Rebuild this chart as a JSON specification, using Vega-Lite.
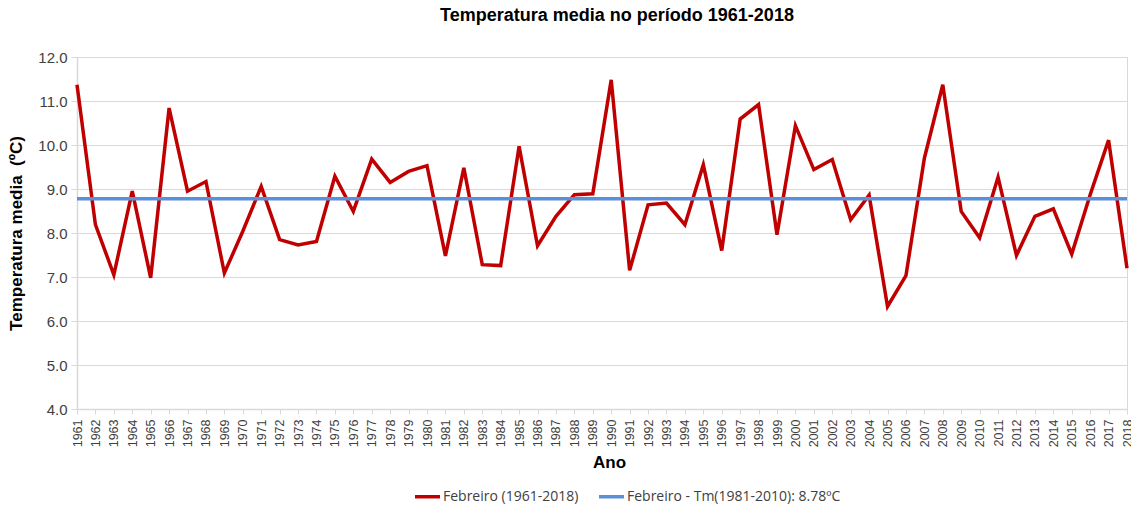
{
  "$schema": "https://vega.github.io/schema/vega-lite/v6.json",
  "width": 1050,
  "height": 352,
  "autosize": {"type": "none"},
  "padding": {"left": 77, "top": 57, "right": 4, "bottom": 97},
  "background": "white",
  "title": {
    "text": "Temperatura media no período 1961-2018",
    "font": "Liberation Sans",
    "fontSize": 18,
    "fontWeight": "bold",
    "color": "#000000",
    "anchor": "middle",
    "dx": 15,
    "offset": 25
  },
  "config": {
    "view": {"stroke": "#d9d9d9", "strokeWidth": 1},
    "axis": {
      "labelFont": "Liberation Sans",
      "titleFont": "Liberation Sans",
      "labelColor": "#404040",
      "titleColor": "#000000",
      "domainColor": "#d9d9d9",
      "tickColor": "#d9d9d9",
      "gridColor": "#d9d9d9",
      "domainWidth": 1.5,
      "gridWidth": 1.2
    }
  },
  "datasets": {
    "feb": [
      {"year": "1961", "temp": 11.37}, {"year": "1962", "temp": 8.19}, {"year": "1963", "temp": 7.05},
      {"year": "1964", "temp": 8.95}, {"year": "1965", "temp": 6.98}, {"year": "1966", "temp": 10.84},
      {"year": "1967", "temp": 8.95}, {"year": "1968", "temp": 9.17}, {"year": "1969", "temp": 7.09},
      {"year": "1970", "temp": 8.04}, {"year": "1971", "temp": 9.06}, {"year": "1972", "temp": 7.85},
      {"year": "1973", "temp": 7.73}, {"year": "1974", "temp": 7.81}, {"year": "1975", "temp": 9.29},
      {"year": "1976", "temp": 8.49}, {"year": "1977", "temp": 9.68}, {"year": "1978", "temp": 9.15},
      {"year": "1979", "temp": 9.40}, {"year": "1980", "temp": 9.53}, {"year": "1981", "temp": 7.48},
      {"year": "1982", "temp": 9.48}, {"year": "1983", "temp": 7.28}, {"year": "1984", "temp": 7.26},
      {"year": "1985", "temp": 9.97}, {"year": "1986", "temp": 7.71}, {"year": "1987", "temp": 8.38},
      {"year": "1988", "temp": 8.87}, {"year": "1989", "temp": 8.89}, {"year": "1990", "temp": 11.48},
      {"year": "1991", "temp": 7.15}, {"year": "1992", "temp": 8.64}, {"year": "1993", "temp": 8.68},
      {"year": "1994", "temp": 8.19}, {"year": "1995", "temp": 9.55}, {"year": "1996", "temp": 7.60},
      {"year": "1997", "temp": 10.59}, {"year": "1998", "temp": 10.92}, {"year": "1999", "temp": 7.96},
      {"year": "2000", "temp": 10.44}, {"year": "2001", "temp": 9.44}, {"year": "2002", "temp": 9.67},
      {"year": "2003", "temp": 8.30}, {"year": "2004", "temp": 8.86}, {"year": "2005", "temp": 6.33},
      {"year": "2006", "temp": 7.03}, {"year": "2007", "temp": 9.70}, {"year": "2008", "temp": 11.37},
      {"year": "2009", "temp": 8.49}, {"year": "2010", "temp": 7.89}, {"year": "2011", "temp": 9.27},
      {"year": "2012", "temp": 7.49}, {"year": "2013", "temp": 8.38}, {"year": "2014", "temp": 8.55},
      {"year": "2015", "temp": 7.52}, {"year": "2016", "temp": 8.87}, {"year": "2017", "temp": 10.11},
      {"year": "2018", "temp": 7.20}
    ],
    "mean": [
      {"series": "Febreiro - Tm(1981-2010): 8.78ºC", "temp": 8.78}
    ]
  },
  "layer": [
    {
      "data": {"name": "feb"},
      "transform": [{"calculate": "'Febreiro (1961-2018)'", "as": "series"}],
      "mark": {"type": "line", "strokeWidth": 3.5, "strokeJoin": "miter"},
      "encoding": {
        "x": {
          "field": "year",
          "type": "ordinal",
          "scale": {"type": "point", "padding": 0},
          "axis": {
            "title": "Ano",
            "titleFontSize": 17,
            "titleFontWeight": "bold",
            "titleX": 532,
            "titlePadding": 8,
            "labelAngle": -90,
            "labelFontSize": 12.5,
            "labelOverlap": false,
            "labelPadding": 5,
            "labelBound": false,
            "tickSize": 5,
            "grid": false
          }
        },
        "y": {
          "field": "temp",
          "type": "quantitative",
          "scale": {"domain": [4, 12], "nice": false, "zero": false},
          "axis": {
            "title": "Temperatura media\u00a0\u00a0(ºC)",
            "titleFontSize": 17,
            "titleFontWeight": "bold",
            "titlePadding": 12,
            "labelFontSize": 15,
            "format": ".1f",
            "values": [4, 5, 6, 7, 8, 9, 10, 11, 12],
            "tickSize": 6,
            "labelPadding": 4,
            "grid": true
          }
        },
        "color": {
          "field": "series",
          "type": "nominal",
          "scale": {
            "domain": ["Febreiro (1961-2018)", "Febreiro - Tm(1981-2010): 8.78ºC"],
            "range": ["#c00000", "#5b8fd6"]
          },
          "legend": {
            "title": null,
            "orient": "none",
            "direction": "horizontal",
            "legendX": 336,
            "legendY": 425,
            "symbolType": "stroke",
            "symbolSize": 625,
            "symbolStrokeWidth": 3.5,
            "labelFont": "Open Sans",
            "labelFontSize": 14,
            "labelColor": "#404040",
            "labelLimit": 0,
            "columnPadding": 13,
            "labelOffset": 1
          }
        }
      }
    },
    {
      "data": {"name": "mean"},
      "mark": {"type": "rule", "strokeWidth": 3.5},
      "encoding": {
        "y": {"field": "temp", "type": "quantitative"},
        "color": {"field": "series", "type": "nominal"}
      }
    }
  ]
}
